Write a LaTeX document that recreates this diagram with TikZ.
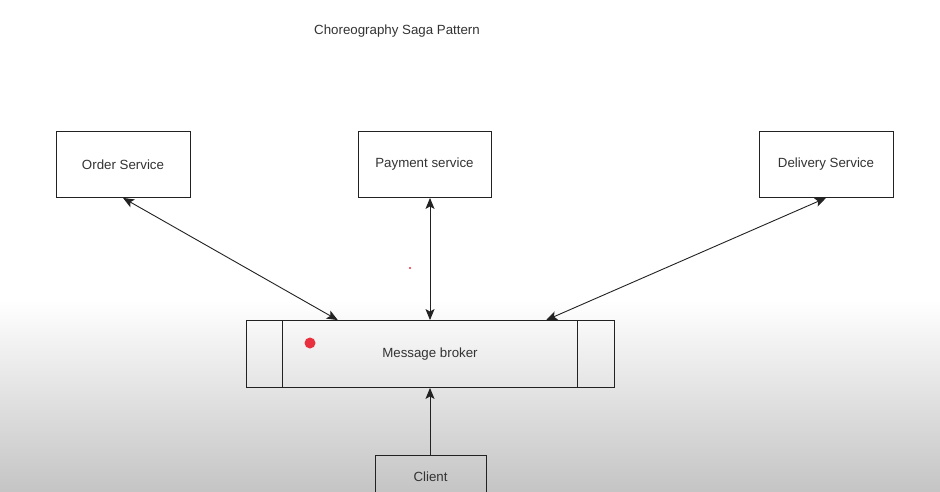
\documentclass[tikz,border=0pt]{standalone}
\usepackage{fontspec}
\setmainfont{Liberation Sans}
\usetikzlibrary{arrows.meta,calc}
\definecolor{linec}{HTML}{222222}
\definecolor{textc}{HTML}{333333}
\definecolor{dotred}{HTML}{E8303F}
\begin{document}
\begin{tikzpicture}[x=1pt,y=-1pt,
  box/.style={draw=linec, line width=0.85pt, rectangle, minimum width=134pt, minimum height=66pt, inner sep=0pt, text=textc, font=\fontsize{13.3}{15}\selectfont},
  conn/.style={draw=linec, line width=0.9pt, {Stealth[length=11pt,width=9pt,inset=2.5pt]}-{Stealth[length=11pt,width=9pt,inset=2.5pt]}},
  oneway/.style={draw=linec, line width=0.9pt, -{Stealth[length=11pt,width=9pt,inset=2.5pt]}}
]
\useasboundingbox (0,0) rectangle (940,492);
\fill[white] (0,0) rectangle (940,300);
\shade[top color=white, bottom color=black!23] (0,300) rectangle (940,492);

\node[text=textc, font=\fontsize{13.3}{15}\selectfont] (title) at (397,31) {Choreography Saga Pattern};

\node[box] (order) at (123,164.5) {Order Service};
\node[box, minimum width=133pt] (payment) at (424.5,164.5) {Payment service};
\node[box] (delivery) at (826,164.5) {Delivery Service};
\node[box, minimum width=368pt, minimum height=67pt] (broker) at (430,354) {Message broker};
\node[box, minimum width=111pt, minimum height=42pt] (client) at (430.5,476.5) {Client};

\draw[linec, line width=0.9pt] ($(broker.north west)+(37,0)$) -- ($(broker.south west)+(37,0)$);
\draw[linec, line width=0.9pt] ($(broker.north east)+(-37,0)$) -- ($(broker.south east)+(-37,0)$);

\draw[conn] (order.south) -- ($(broker.north west)!0.25!(broker.north east)$);
\draw[conn] (payment.south -| broker.north) -- (broker.north);
\draw[conn] (delivery.south) -- ($(broker.north west)!0.815!(broker.north east)$);
\draw[oneway] (client.north -| broker.south) -- (broker.south);

\fill[dotred] (310,343) circle (5.5pt);
\fill[dotred] (410,268) circle (1.2pt);
\end{tikzpicture}
\end{document}
